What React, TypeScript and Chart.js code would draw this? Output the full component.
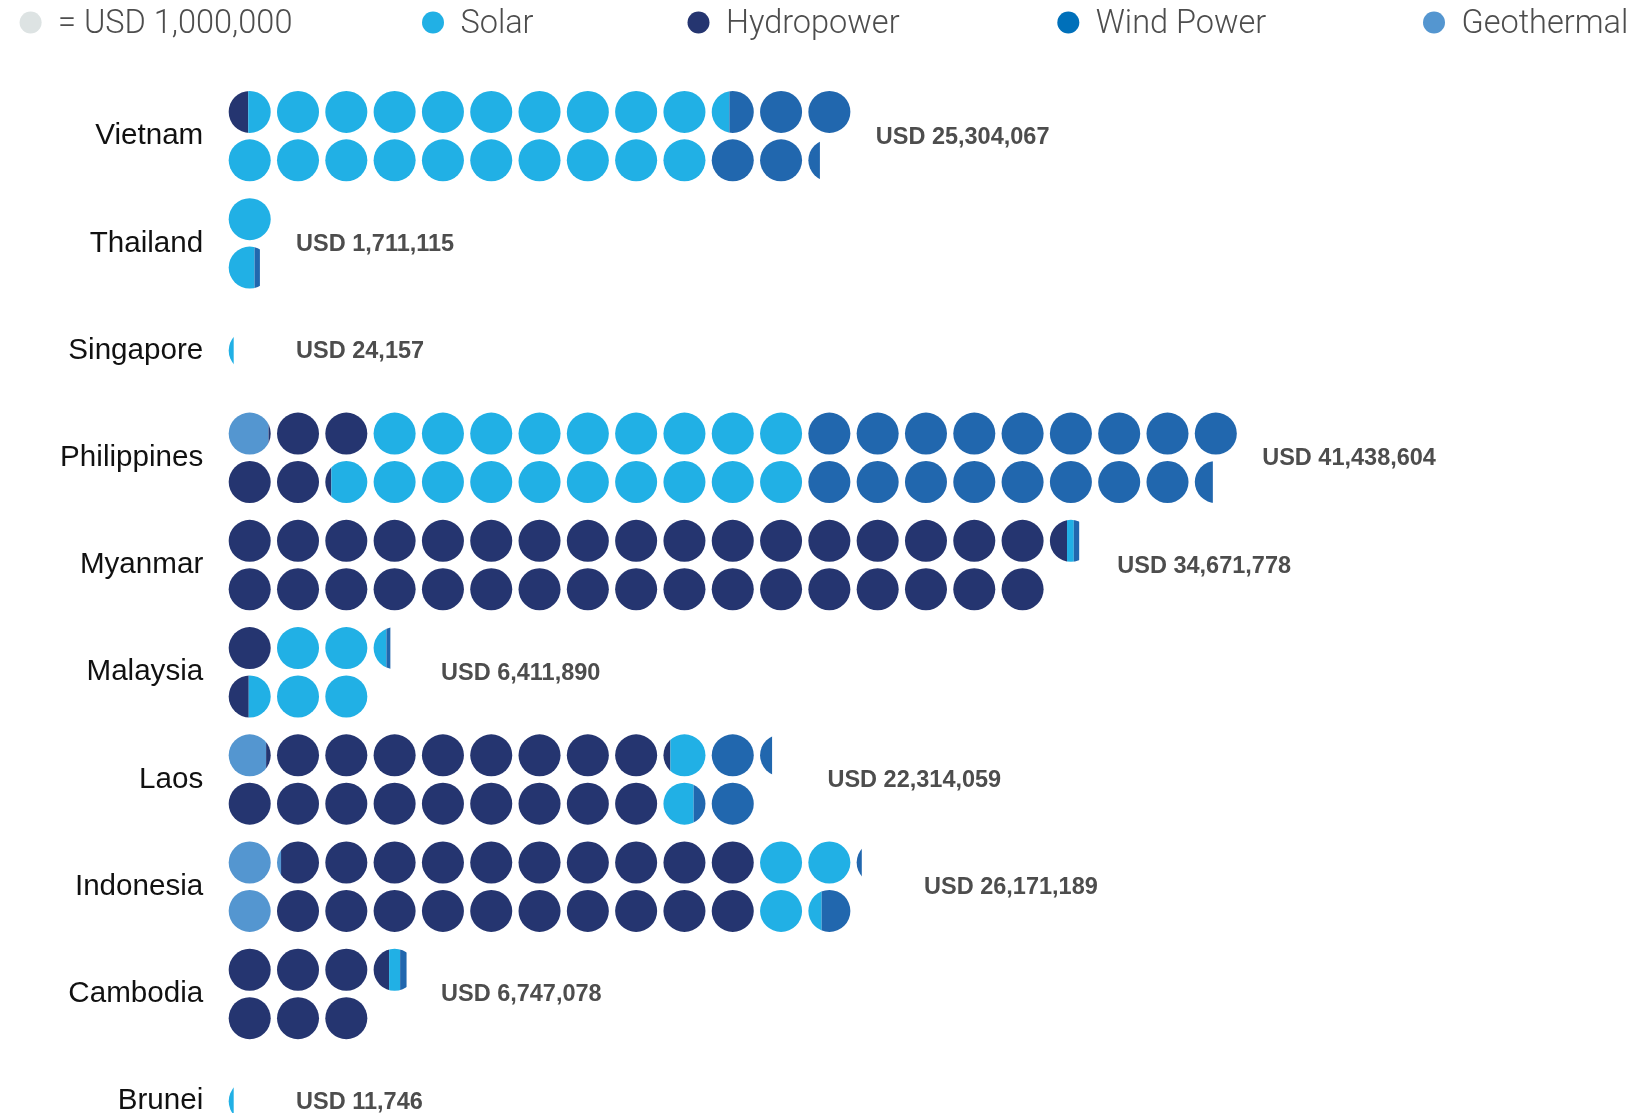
import React, { useEffect, useRef } from 'react';
import { Chart, registerables } from 'chart.js';

Chart.register(...registerables);

// ---------------- DATA ----------------
const COUNTRIES = ['Vietnam', 'Thailand', 'Singapore', 'Philippines', 'Myanmar', 'Malaysia', 'Laos', 'Indonesia', 'Cambodia', 'Brunei'];
// Total investment, USD
const TOTAL_USD = [25304067, 1711115, 24157, 41438604, 34671778, 6411890, 22314059, 26171189, 6747078, 11746];
// Breakdown per technology, USD millions (one dot = USD 1,000,000)
const GEOTHERMAL = [0, 0, 0, 0.89, 0, 0, 0.84, 2.15, 0, 0];
const HYDROPOWER = [0.47, 0, 0, 4.3, 34.42, 1.48, 17.37, 19.85, 6.386, 0];
const SOLAR = [19.96, 1.6, 0.024157, 18.81, 0.14, 4.85, 1.48, 3.34, 0.228, 0.011746];
const WIND_POWER = [4.874067, 0.111115, 0, 17.438604, 0.111778, 0.08189, 2.624059, 0.831189, 0.133078, 0];

const SERIES_NAMES = ['Geothermal', 'Hydropower', 'Solar', 'Wind Power'];
const SERIES_VALUES = [GEOTHERMAL, HYDROPOWER, SOLAR, WIND_POWER];
const UNIT_LABEL = '= USD 1,000,000';
const LEGEND_ORDER = ['Solar', 'Hydropower', 'Wind Power', 'Geothermal'];

// ---------------- STYLE ----------------
const DOT_COLORS: Record<string, string> = {
  Geothermal: '#5496D0',
  Hydropower: '#253570',
  Solar: '#21B0E5',
  'Wind Power': '#2167AE',
};
const LEGEND_COLORS: Record<string, string> = {
  unit: '#DDE3E3',
  Solar: '#21B0E5',
  Hydropower: '#253570',
  'Wind Power': '#0070BA',
  Geothermal: '#5496D0',
};
const ROW_OFFSET = 0.2257; // offset of the two dot rows around the country line (y units)
const RADIUS_RATIO = 0.435; // dot radius relative to column step
const MIN_SLIVER_PX = 5;
const LABEL_GAP = 0.96; // value label distance after last column (x units)
const LEGEND_DOT_X = [30.6, 433, 698.5, 1068.3, 1434];
const LEGEND_Y = 22.5;
const LEGEND_DOT_R = 11;
const LEGEND_TEXT_DX = 27.4;

function buildDatasets() {
  const cum = COUNTRIES.map(() => 0);
  return SERIES_VALUES.map((vals, si) => {
    const data: any[] = [];
    vals.forEach((v, ci) => {
      const s = cum[ci];
      const e = s + v;
      cum[ci] = e;
      if (v <= 0) return;
      const singleRow = TOTAL_USD[ci] / 1e6 <= 1;
      for (let u = Math.floor(s); u < e; u++) {
        const from = Math.max(s, u) - u;
        const to = Math.min(e, u + 1) - u;
        if (to - from <= 1e-9) continue;
        const col = Math.floor(u / 2);
        const row = u % 2;
        const off = singleRow ? 0 : row === 0 ? -ROW_OFFSET : ROW_OFFSET;
        data.push({ x: col, y: ci + off, from, to });
      }
    });
    const name = SERIES_NAMES[si];
    return {
      label: name,
      data,
      backgroundColor: DOT_COLORS[name],
      borderWidth: 0,
      pointRadius: 0,
      pointHoverRadius: 0,
    };
  });
}

const dotPlugin = {
  id: 'unitDots',
  afterDatasetsDraw(chart: any) {
    const ctx = chart.ctx;
    const xs = chart.scales.x;
    const step = Math.abs(xs.getPixelForValue(1) - xs.getPixelForValue(0));
    const R = step * RADIUS_RATIO;
    chart.data.datasets.forEach((ds: any, di: number) => {
      const meta = chart.getDatasetMeta(di);
      meta.data.forEach((el: any, j: number) => {
        const raw = ds.data[j];
        const cx = el.x;
        const cy = el.y;
        ctx.save();
        ctx.beginPath();
        ctx.arc(cx, cy, R, 0, Math.PI * 2);
        ctx.clip();
        const left = cx + (raw.from - 0.5) * step;
        let right = cx + (raw.to - 0.5) * step;
        right = Math.max(right, cx - R + MIN_SLIVER_PX);
        ctx.fillStyle = ds.backgroundColor;
        ctx.fillRect(left, cy - R - 1, right - left, 2 * R + 2);
        ctx.restore();
      });
    });

    // value labels
    const ys = chart.scales.y;
    ctx.save();
    ctx.font = 'bold 23.5px "Liberation Sans", Arial, sans-serif';
    ctx.fillStyle = '#4D4D4D';
    ctx.textAlign = 'left';
    ctx.textBaseline = 'middle';
    COUNTRIES.forEach((_, ci) => {
      const units = TOTAL_USD[ci] / 1e6;
      const lastCol = Math.floor((Math.ceil(units) - 1) / 2);
      const x = xs.getPixelForValue(lastCol + LABEL_GAP);
      const y = ys.getPixelForValue(ci) + 1;
      ctx.fillText('USD ' + TOTAL_USD[ci].toLocaleString('en-US'), x, y);
    });
    ctx.restore();
  },
};

const legendPlugin = {
  id: 'dotLegend',
  afterDraw(chart: any) {
    const ctx = chart.ctx;
    const items = [{ key: 'unit', text: UNIT_LABEL }, ...LEGEND_ORDER.map((n) => ({ key: n, text: n }))];
    ctx.save();
    ctx.font = '300 32.5px Roboto, "Liberation Sans", sans-serif';
    ctx.textAlign = 'left';
    ctx.textBaseline = 'middle';
    items.forEach((it, i) => {
      const x = LEGEND_DOT_X[i];
      ctx.fillStyle = LEGEND_COLORS[it.key];
      ctx.beginPath();
      ctx.arc(x, LEGEND_Y, LEGEND_DOT_R, 0, Math.PI * 2);
      ctx.fill();
      ctx.fillStyle = '#4D4D4D';
      ctx.fillText(it.text, x + LEGEND_TEXT_DX, LEGEND_Y + 2.5);
    });
    ctx.restore();
  },
};

export default function App() {
  const ref = useRef<HTMLCanvasElement>(null);
  useEffect(() => {
    document.body.style.margin = '0';
    const canvas = ref.current;
    if (!canvas) return;
    const chart = new Chart(canvas, {
      type: 'scatter',
      data: { datasets: buildDatasets() as any },
      options: {
        responsive: false,
        animation: false,
        events: [],
        layout: { padding: { top: 82.5, left: 0, right: 0, bottom: 0 } },
        plugins: {
          legend: { display: false },
          tooltip: { enabled: false },
        },
        scales: {
          x: {
            type: 'linear',
            display: false,
            min: -0.5,
            max: 29.03,
          },
          y: {
            type: 'linear',
            reverse: true,
            min: -0.5,
            max: 9.11,
            grid: { display: false, drawTicks: false },
            border: { display: false },
            afterFit: (scale: any) => {
              scale.width = 225.55;
              scale.paddingTop = 0;
              scale.paddingBottom = 0;
            },
            afterBuildTicks: (scale: any) => {
              scale.ticks = COUNTRIES.map((_, i) => ({ value: i }));
            },
            ticks: {
              autoSkip: false,
              padding: 22.3,
              color: '#111111',
              font: { family: '"Liberation Sans", Arial, sans-serif', size: 29.6 },
              callback: (value: any) => COUNTRIES[value as number],
            },
          },
        },
      },
      plugins: [dotPlugin, legendPlugin],
    });
    return () => chart.destroy();
  }, []);
  return (
    <div style={{ width: 1652, height: 1113 }}>
      <canvas ref={ref} width={1652} height={1113} style={{ display: 'block' }} />
    </div>
  );
}
